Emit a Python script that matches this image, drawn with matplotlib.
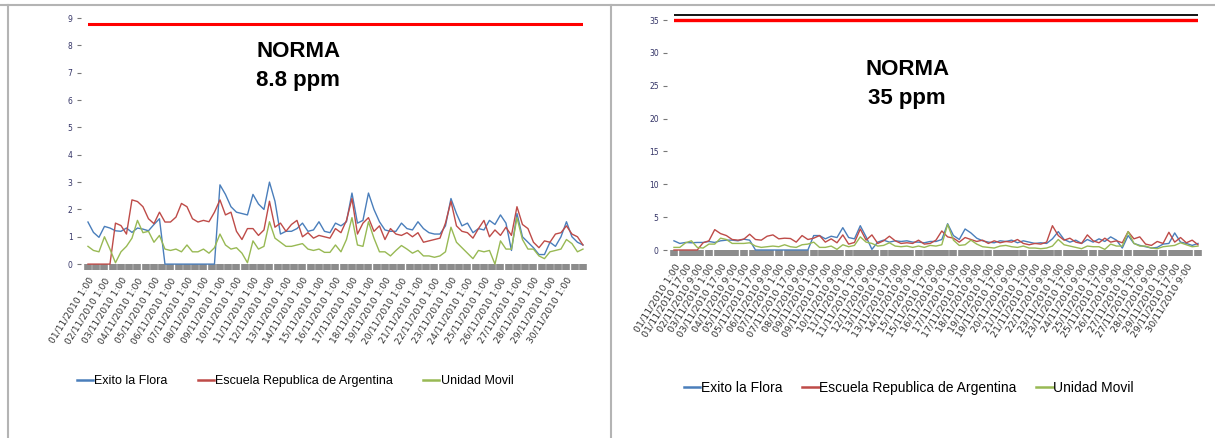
import numpy as np
import matplotlib.pyplot as plt
from matplotlib.lines import Line2D

# hours since 01/11/2010 1:00, one reading every 8 hours
hours = np.arange(0, 721, 8)

# left chart (8 h average, norma 8.8 ppm)
exito_8h = [1.54, 1.16, 0.98, 1.38, 1.32, 1.22, 1.20, 1.32, 1.16, 1.32, 1.28, 1.22, 1.45, 1.66, 0.0,
            0, 0, 0, 0, 0, 0, 0, 0, 0,
            2.9, 2.55, 2.1, 1.9, 1.85, 1.8, 2.55, 2.2, 2.0, 3.0, 2.3, 1.1, 1.2, 1.2, 1.3, 1.5, 1.2, 1.25, 1.55, 1.2, 1.15,
            1.5, 1.4, 1.55, 2.6, 1.5, 1.6, 2.6, 2.0, 1.55, 1.25, 1.2, 1.2, 1.5, 1.3, 1.25, 1.55, 1.3, 1.15, 1.1, 1.1, 1.4, 2.4,
            1.85, 1.4, 1.5, 1.15, 1.3, 1.25, 1.6, 1.45, 1.8, 1.5, 0.5, 1.85, 1.0, 0.8, 0.6, 0.35, 0.35, 0.8, 0.65, 1.0, 1.55, 1.0, 0.8, 0.7]
escuela_8h = [0, 0, 0, 0, 0, 1.5, 1.41, 1.1, 2.35, 2.29, 2.1, 1.66, 1.48, 1.9, 1.54,
              1.54, 1.72, 2.22, 2.1, 1.66, 1.54, 1.6, 1.55, 1.9,
              2.35, 1.8, 1.9, 1.2, 0.9, 1.3, 1.3, 1.05, 1.25, 2.3, 1.35, 1.5, 1.2, 1.45, 1.6, 1.0, 1.15, 0.95, 1.05, 1.0, 0.95,
              1.3, 1.15, 1.6, 2.4, 1.1, 1.5, 1.7, 1.2, 1.4, 0.9, 1.3, 1.1, 1.05, 1.15, 1.0, 1.15, 0.8, 0.85, 0.9, 0.95, 1.5, 2.3,
              1.4, 1.2, 1.15, 0.95, 1.3, 1.6, 1.0, 1.25, 1.05, 1.35, 1.05, 2.1, 1.45, 1.3, 0.8, 0.6, 0.85, 0.8, 1.1, 1.15, 1.4, 1.1, 1.0, 0.7]
movil_8h = [0.65, 0.5, 0.45, 1.0, 0.55, 0.05, 0.45, 0.65, 0.95, 1.6, 1.15, 1.2, 0.8, 1.05, 0.55,
            0.5, 0.55, 0.45, 0.7, 0.45, 0.45, 0.55, 0.4, 0.6,
            1.1, 0.7, 0.55, 0.6, 0.4, 0.05, 0.85, 0.55, 0.65, 1.55, 0.95, 0.8, 0.65, 0.65, 0.7, 0.75, 0.55, 0.5, 0.55, 0.43, 0.43,
            0.7, 0.45, 0.9, 1.7, 0.7, 0.65, 1.55, 0.95, 0.45, 0.45, 0.3, 0.5, 0.68, 0.55, 0.4, 0.5, 0.3, 0.3, 0.25, 0.3, 0.45, 1.35,
            0.8, 0.6, 0.4, 0.2, 0.5, 0.45, 0.5, 0.0, 0.85, 0.55, 0.55, 1.7, 0.9, 0.55, 0.55, 0.3, 0.2, 0.45, 0.5, 0.55, 0.9, 0.75, 0.45, 0.55]

# right chart (1 h values, norma 35 ppm)
exito_1h = [1.4, 1.0, 1.15, 1.1, 1.15, 1.15, 1.3, 1.15, 1.4, 1.5, 1.5, 1.4, 1.65, 1.5, 0.0,
            0, 0, 0, 0, 0, 0, 0, 0, 0,
            2.2, 2.2, 1.7, 2.1, 1.9, 3.4, 1.9, 1.7, 3.7, 2.0, 0.1, 1.2, 1.5, 1.2, 1.4, 1.3, 1.4, 1.2, 1.2, 1.1, 1.3,
            1.3, 1.6, 4.0, 2.2, 1.6, 3.2, 2.6, 1.8, 1.4, 1.2, 1.1, 1.4, 1.3, 1.5, 1.1, 1.4, 1.2, 1.0, 1.1, 1.0, 1.7, 2.8,
            1.6, 1.2, 1.5, 1.0, 1.6, 1.2, 1.7, 1.3, 2.0, 1.5, 0.3, 2.2, 1.0, 0.7, 0.5, 0.3, 0.4, 0.9, 1.0, 2.6, 1.2, 1.0, 0.7, 1.0]
escuela_1h = [0, 0, 0, 0, 0, 1.1, 1.4, 3.1, 2.5, 2.2, 1.6, 1.5, 1.65, 2.4, 1.6,
              1.5, 2.1, 2.3, 1.7, 1.8, 1.75, 1.2, 2.2, 1.6,
              1.8, 2.2, 1.2, 1.7, 1.1, 2.3, 0.9, 1.15, 3.2, 1.5, 2.3, 1.0, 1.4, 2.1, 1.4, 1.0, 1.1, 1.0, 1.5, 0.9, 1.0,
              1.5, 2.9, 2.0, 1.8, 1.2, 1.9, 1.6, 1.3, 1.5, 1.0, 1.4, 1.1, 1.3, 1.2, 1.6, 1.0, 0.8, 1.0, 0.9, 1.2, 3.7, 2.2,
              1.5, 1.8, 1.2, 1.0, 2.3, 1.4, 1.1, 1.8, 1.2, 1.4, 1.1, 2.8, 1.7, 2.0, 0.9, 0.7, 1.3, 1.0, 2.7, 1.2, 1.9, 1.1, 1.5, 0.8]
movil_1h = [0.4, 0.4, 1.1, 1.4, 0.4, 0.3, 0.9, 0.9, 1.8, 1.6, 1.0, 1.0, 1.0, 1.1, 0.6,
            0.4, 0.5, 0.6, 0.5, 0.8, 0.5, 0.4, 0.8, 0.9,
            1.2, 0.4, 0.4, 0.6, 0.1, 0.8, 0.5, 0.7, 2.0, 1.2, 1.0, 0.6, 0.7, 1.1, 0.6, 0.5, 0.6, 0.4, 0.6, 0.4, 0.7,
            0.6, 0.8, 3.9, 1.5, 0.7, 0.8, 1.5, 0.9, 0.5, 0.4, 0.3, 0.6, 0.7, 0.5, 0.4, 0.6, 0.3, 0.3, 0.2, 0.3, 0.6, 1.6,
            0.8, 0.6, 0.4, 0.2, 0.6, 0.5, 0.5, 0.1, 0.9, 0.6, 0.6, 2.8, 1.0, 0.6, 0.6, 0.3, 0.2, 0.5, 0.6, 0.7, 1.1, 0.8, 0.5, 0.6]

series_names = ['Exito la Flora', 'Escuela Republica de Argentina', 'Unidad Movil']
colors = ['#4a7ebb', '#be4b48', '#98b954']


def tick_label(h):
    return f'{1 + h // 24:02d}/11/2010 {1 + h % 24}:00'


def setup_axis(ax, ymax, yticks, label_hours, label_size):
    ax.set_xlim(0, 720)
    ax.set_ylim(0, ymax)
    for s in ax.spines.values():
        s.set_color('none')
    ax.spines['left'].set_position(('outward', 5))
    ax.set_yticks(yticks)
    ax.tick_params(axis='y', length=3, width=0.8, color='#777777', pad=3,
                   labelsize=5.5, labelcolor='#333366')
    # the grey dashed band along the bottom is the hourly tick marks
    ax.set_xticks(np.arange(0, 721, 12), minor=True)
    ax.set_xticks(label_hours)
    ax.set_xticklabels([tick_label(h) for h in label_hours], rotation=58,
                       ha='right', rotation_mode='anchor', fontsize=label_size, color='#333333')
    ax.tick_params(axis='x', which='both', length=4.5, width=5.5, color='#8c8c8c', pad=4)


fig = plt.figure(figsize=(12.15, 4.38), dpi=100)

# grey frame of the two pasted charts
fig.add_artist(Line2D([0, 1], [0.989, 0.989], color='#b4b4b4', lw=1.5))
fig.add_artist(Line2D([0.0066, 0.0066], [0, 0.989], color='#b4b4b4', lw=1.5))
fig.add_artist(Line2D([0.503, 0.503], [0, 0.989], color='#b4b4b4', lw=1.5))

legend_font = ['Liberation Sans', 'DejaVu Sans']

# left chart
ax1 = fig.add_axes([0.0724, 0.397, 0.4074, 0.5616])
setup_axis(ax1, 9, range(0, 10), list(range(0, 720, 24)), 6.6)
ax1.plot([0, 720], [8.8, 8.8], color='#ff0000', lw=2.2)
for vals, c, name in zip([exito_8h, escuela_8h, movil_8h], colors, series_names):
    ax1.plot(hours, vals, color=c, lw=1.0, label=name, clip_on=False)
ax1.text(0.425, 0.805, 'NORMA\n8.8 ppm', transform=ax1.transAxes, ha='center', va='center',
         fontsize=16, fontweight='bold', family=['Liberation Sans', 'DejaVu Sans'], linespacing=1.5)
leg1 = ax1.legend(loc='center', bbox_to_anchor=(0.243, 0.13), bbox_transform=fig.transFigure,
                  ncol=3, frameon=False, handlelength=1.3, handletextpad=0.1, columnspacing=2.4,
                  prop={'family': legend_font, 'size': 9})

# right chart
ax2 = fig.add_axes([0.5547, 0.4292, 0.4313, 0.540])
setup_axis(ax2, 36, range(0, 36, 5), list(range(0, 720, 16)), 6.8)
ax2.plot([0, 720], [35.7, 35.7], color='black', lw=1.3)
ax2.plot([0, 720], [35, 35], color='#ff0000', lw=2.4)
for vals, c, name in zip([exito_1h, escuela_1h, movil_1h], colors, series_names):
    ax2.plot(hours, vals, color=c, lw=1.0, label=name, clip_on=False)
ax2.text(0.445, 0.70, 'NORMA\n35 ppm', transform=ax2.transAxes, ha='center', va='center',
         fontsize=16, fontweight='bold', family=['Liberation Sans', 'DejaVu Sans'], linespacing=1.5)
leg2 = ax2.legend(loc='center', bbox_to_anchor=(0.748, 0.115), bbox_transform=fig.transFigure,
                  ncol=3, frameon=False, handlelength=1.2, handletextpad=0.05, columnspacing=1.4,
                  prop={'family': legend_font, 'size': 10})
for leg in (leg1, leg2):
    for ln in leg.get_lines():
        ln.set_linewidth(1.8)

plt.savefig('out.png', dpi=100)
